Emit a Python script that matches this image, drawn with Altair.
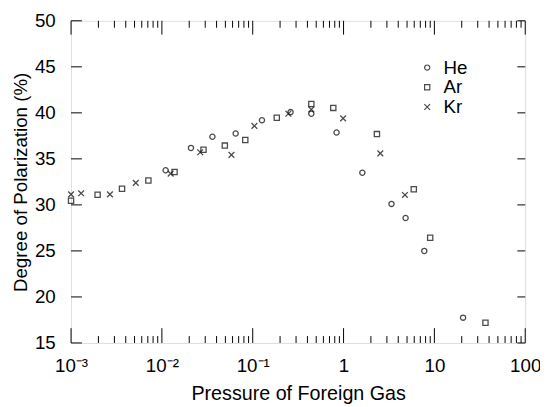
import altair as alt
import pandas as pd

# ---- data ----
he_p = [0.0110, 0.0209, 0.0360, 0.0649, 0.1264, 0.261, 0.4417, 0.8375, 1.61, 3.37, 4.82, 7.74, 20.7]
he_v = [33.76, 36.19, 37.4, 37.75, 39.19, 40.08, 39.9, 37.86, 33.5, 30.11, 28.58, 25.0, 17.75]

ar_p = [0.001, 0.00196, 0.00364, 0.0071, 0.01378, 0.0287, 0.0493, 0.0828, 0.184, 0.4417, 0.7706, 2.33, 5.93, 8.99, 36.5]
ar_v = [30.45, 31.1, 31.75, 32.65, 33.57, 36.0, 36.44, 37.05, 39.47, 40.97, 40.54, 37.69, 31.69, 26.44, 17.2]

kr_p = [0.001, 0.00129, 0.00268, 0.00516, 0.01248, 0.0264, 0.0583, 0.1043, 0.2466, 0.4417, 0.9886, 2.54, 4.74]
kr_v = [31.15, 31.26, 31.15, 32.4, 33.4, 35.72, 35.44, 38.58, 39.9, 40.37, 39.4, 35.6, 31.08]

gases = ["He", "Ar", "Kr"]
x_major = [0.001, 0.01, 0.1, 1, 10, 100]
x_labels = ["10\u207b\u00b3", "10\u207b\u00b2", "10\u207b\u00b9", "1", "10", "100"]
x_minor = [m * 10 ** k for k in range(-3, 2) for m in range(2, 10)]
y_major = [15, 20, 25, 30, 35, 40, 45, 50]

W, H = 461, 327
FONT = "Liberation Sans"

rows = []
for g, ps, vs in (("He", he_p, he_v), ("Ar", ar_p, ar_v), ("Kr", kr_p, kr_v)):
    for p, v in zip(ps, vs):
        rows.append({"gas": g, "p": p, "v": v})
df = pd.DataFrame(rows)

xscale = alt.Scale(type="log", domain=[0.001, 100], nice=False)
yscale = alt.Scale(domain=[15, 50], nice=False, zero=False)

expr = " : ".join(f"datum.value == {v} ? '{l}'" for v, l in zip(x_major, x_labels)) + " : ''"

points = alt.Chart(df).mark_point(filled=False, strokeWidth=1.3, color="black").encode(
    x=alt.X("p:Q", scale=xscale,
            axis=alt.Axis(title="Pressure of Foreign Gas", values=x_major, labelExpr=expr,
                          ticks=False, grid=False, domain=False, labelFontSize=19,
                          labelFont=FONT, labelPadding=14, titleFont=FONT, titleFontSize=20,
                          titleFontWeight="normal", titlePadding=8, labelColor="black",
                          titleColor="black", labelFlush=False)),
    y=alt.Y("v:Q", scale=yscale,
            axis=alt.Axis(title="Degree of Polarization (%)", values=y_major, ticks=False,
                          grid=False, domain=False, labelFontSize=19, labelFont=FONT,
                          labelPadding=16, titleFont=FONT, titleFontSize=19,
                          titleFontWeight="normal", titlePadding=4, labelColor="black",
                          titleColor="black")),
    shape=alt.Shape("gas:N", scale=alt.Scale(domain=gases,
                    range=["circle", "square", "M-1.1,-1.1L1.1,1.1M-1.1,1.1L1.1,-1.1"]),
                    legend=alt.Legend(title=None, orient="none", legendX=352, legendY=38,
                                      labelFont=FONT, labelFontSize=19, symbolSize=28,
                                      symbolStrokeColor="black", symbolStrokeWidth=1.2,
                                      symbolFillColor="transparent", rowPadding=0,
                                      labelOffset=7, labelColor="black")),
    size=alt.value(28),
)

xmaj = pd.DataFrame({"p": x_major})
xmin = pd.DataFrame({"p": x_minor})
ymaj = pd.DataFrame({"v": y_major})

def xt(data, y1, y2):
    return alt.Chart(data).mark_rule(color="black", strokeWidth=1).encode(
        x=alt.X("p:Q", scale=xscale), y=alt.value(y1), y2=alt.value(y2))

def yt(data, x1, x2):
    return alt.Chart(data).mark_rule(color="black", strokeWidth=1).encode(
        y=alt.Y("v:Q", scale=yscale), x=alt.value(x1), x2=alt.value(x2))

ticks = [
    xt(xmaj, H, H - 15), xt(xmin, H, H - 7),
    xt(xmaj, 0, 14), xt(xmin, 0, 7),
    yt(ymaj, 0, 11), yt(ymaj, W - 8, W),
]

chart = alt.layer(points, *ticks).properties(
    width=W, height=H,
    autosize=alt.AutoSizeParams(type="none"),
    padding={"left": 64, "top": 10, "right": 15, "bottom": 62},
).configure_view(stroke="black", strokeWidth=1.5).configure(background="white")

chart.save("out.html", embed_options={"renderer": "svg", "actions": False})
